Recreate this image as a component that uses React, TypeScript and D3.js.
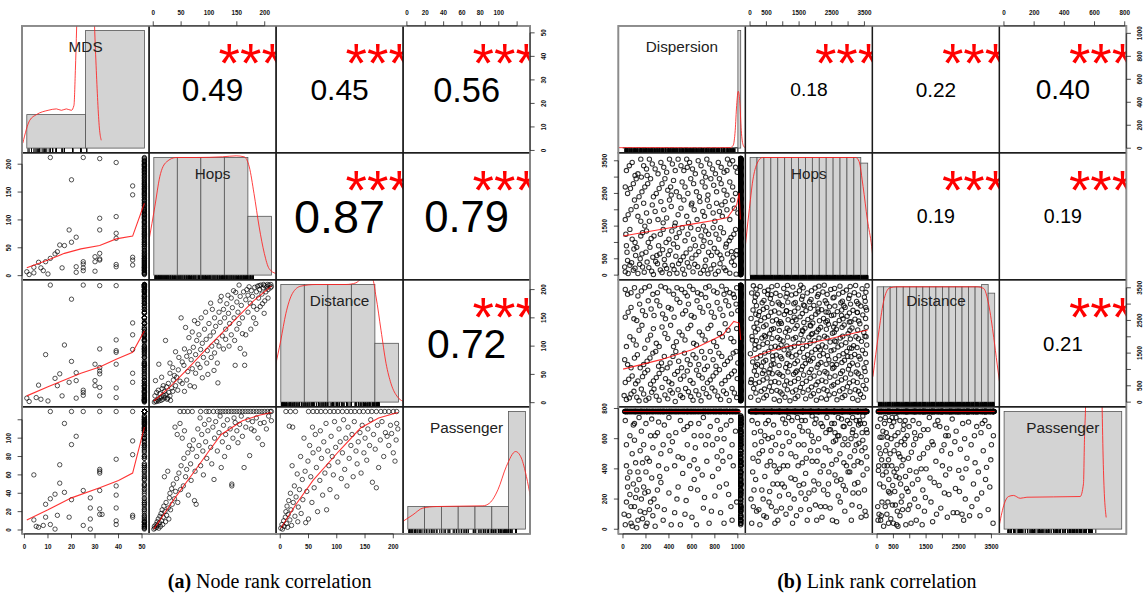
import { useEffect, useRef } from 'react';
import * as d3 from 'd3';

// flat [x0, y0, x1, y1, ...] lists -> [[x0, y0], [x1, y1], ...]
const pairs = (flat: number[]) => d3.range(0, flat.length, 2).map((i) => [flat[i], flat[i + 1]]);

// ---------- (a) node rank correlation ----------
const nodeNames = ['MDS', 'Hops', 'Distance', 'Passenger'];
const nodeRanges = [[1, 51], [1, 212], [1, 209], [1, 129]];
const nodeTicks = [[0, 10, 20, 30, 40, 50], [0, 50, 100, 150, 200], [0, 50, 100, 150, 200], [0, 20, 40, 60, 80, 100, 120]];
const nodeHiddenLabels = [[], [], [], [120]];
const nodeCorrelations = [0.49, 0.45, 0.56, 0.87, 0.79, 0.72];
const nodeSignif = ['***', '***', '***', '***', '***', '***'];

const nodeMdsBreaks = [0, 50, 100];
const nodeMdsCounts = [47, 165];
const nodeHopsBreaks = [0, 50, 100, 150, 200, 250];
const nodeHopsCounts = [50, 50, 50, 50, 25];
const nodeDistanceBreaks = [0, 50, 100, 150, 200, 250];
const nodeDistanceCounts = [50, 50, 50, 50, 25];
const nodePassengerBreaks = [0, 20, 40, 60, 80, 100, 120, 140];
const nodePassengerCounts = [19, 19, 19, 19, 19, 19, 99];

const nodeMdsDensity = [[-3.4, 7], [2.5, 39], [8.2, 47], [18.1, 53], [25.2, 55], [29.4, 53], [33.6, 55], [37.9, 53], [40.1, 60], [41.3, 109], [42.4, 170], [46, 400], [50, 640], [54, 400], [57.6, 172], [59.1, 109], [61.9, 25], [63.3, 11]];
const nodeHopsDensity = [[-9.9, 15.2], [2.1, 29], [12.7, 41.8], [26.8, 48.1], [48, 50], [90, 50], [146, 50.3], [175, 50.7], [192, 50.3], [203, 46], [213, 34.7], [224, 20.5], [235, 9.2], [245, 2.8], [259, 0.7]];
const nodeDistanceDensity = [[-12, 14.9], [0, 26.3], [10.7, 37.6], [24.7, 46.2], [42.6, 49.3], [74.6, 50], [138.5, 50], [159.8, 50.7], [170.5, 52.1], [195.2, 52.1], [202.5, 44.7], [213.1, 30.5], [223.8, 16.4], [234.4, 7.8], [248.5, 2.1], [259.2, 0.4]];
const nodePassengerDensity = [[-6, 6.4], [6, 12], [17.9, 17.7], [33.9, 19], [89.4, 19.6], [97.4, 21.9], [107.3, 33.1], [117.3, 52.7], [128.4, 65.3], [135.2, 59.8], [141.2, 44.3], [146.3, 26.1]];

const nodeMdsHops = [[11, 212], [25, 212], [32, 210], [39, 203], [20, 172], [46, 161], [46, 145], [32, 103], [39, 106], [19, 82], [32, 82], [22, 69], [39, 76], [39, 67], [17, 54], [15, 55], [20, 60], [14, 43], [13, 39], [11, 31], [9, 25], [6, 24], [4, 15], [1, 7], [2, 2], [4, 5], [7, 14], [8, 9], [10, 3], [16, 14], [22, 16], [22, 6], [25, 25], [25, 21], [25, 14], [25, 9], [30, 34], [30, 8], [32, 40], [32, 30], [32, 28], [39, 20], [39, 16], [46, 33], [46, 19], [51, 12], [30, 25], [46, 28]];
const nodeMdsDist = [[11, 208], [25, 208], [32, 207], [39, 207], [20, 183], [46, 141], [46, 120], [17, 102], [32, 95], [39, 111], [39, 92], [39, 89], [9, 85], [20, 73], [30, 68], [32, 62], [32, 56], [32, 51], [39, 68], [46, 94], [46, 52], [46, 36], [13, 43], [15, 51], [14, 30], [19, 36], [22, 53], [22, 39], [30, 39], [30, 30], [32, 27], [39, 26], [39, 9], [6, 31], [1, 8], [2, 2], [5, 9], [7, 6], [10, 3], [16, 12], [22, 8], [25, 22], [25, 18], [25, 13], [32, 12], [51, 5]];
const nodeMdsPass = [[11, 129], [20, 129], [25, 129], [32, 129], [39, 129], [46, 129], [17, 116], [22, 102], [20, 93], [46, 97], [39, 77], [46, 82], [32, 66], [32, 64], [32, 62], [4, 60], [15, 71], [17, 41], [15, 51], [25, 43], [28, 35], [11, 34], [39, 48], [39, 38], [20, 33], [32, 43], [28, 24], [13, 39], [9, 28], [4, 11], [5, 4], [6, 3], [8, 5], [9, 14], [11, 6], [13, 1], [14, 16], [19, 14], [25, 5], [28, 12], [28, 1], [33, 17], [32, 23], [32, 17], [39, 24], [39, 10], [39, 6], [46, 16], [46, 14], [51, 8]];
const nodeHopsDist = [[2, 1], [4, 3], [6, 2], [8, 5], [10, 3], [12, 8], [14, 4], [15, 10], [17, 6], [19, 12], [21, 9], [23, 14], [25, 6], [3, 12], [6, 18], [9, 22], [12, 16], [16, 25], [20, 20], [24, 28], [28, 18], [31, 4], [27, 34], [33, 26], [36, 40], [40, 30], [4, 39], [10, 68], [22, 110], [30, 52], [35, 62], [38, 48], [42, 45], [45, 58], [48, 38], [50, 150], [52, 72], [55, 66], [58, 133], [60, 82], [62, 55], [65, 90], [68, 76], [70, 60], [72, 98], [74, 145], [74, 28], [76, 85], [78, 110], [80, 68], [82, 120], [85, 94], [88, 105], [90, 80], [92, 130], [95, 112], [97, 92], [100, 140], [102, 118], [103, 176], [105, 100], [108, 125], [109, 57], [110, 150], [112, 135], [114, 108], [116, 35], [118, 160], [120, 142], [122, 188], [124, 118], [126, 165], [128, 150], [130, 130], [132, 175], [135, 158], [137, 140], [140, 185], [142, 168], [145, 150], [147, 66], [148, 195], [150, 178], [152, 160], [154, 208], [156, 188], [158, 172], [160, 122], [162, 196], [164, 86], [164, 66], [166, 182], [168, 200], [170, 190], [172, 205], [174, 176], [176, 198], [178, 188], [180, 170], [182, 204], [184, 140], [185, 196], [187, 206], [189, 185], [191, 200], [193, 208], [195, 192], [197, 203], [199, 158], [200, 207], [202, 196], [204, 205], [206, 200], [208, 208], [210, 203], [211, 209], [212, 205], [205, 209], [198, 209], [190, 207], [15, 45], [18, 30], [26, 8], [30, 12], [35, 20], [44, 22], [46, 80], [52, 34], [56, 95], [60, 40], [64, 115], [66, 30], [70, 125], [76, 52], [80, 140], [84, 62], [86, 150], [88, 44], [94, 160], [96, 70], [98, 50], [104, 80], [106, 165], [110, 88], [115, 70], [118, 100], [120, 180], [126, 95], [130, 112], [134, 190], [136, 100], [140, 120], [144, 198], [146, 110], [150, 130], [154, 140], [156, 96], [160, 150], [166, 120], [170, 160], [175, 130], [180, 150], [186, 165], [192, 170], [196, 175], [200, 180], [206, 185], [30, 70], [40, 90], [56, 20]];
const nodeHopsPass = [[1, 1], [2, 4], [3, 2], [5, 6], [6, 3], [7, 9], [8, 5], [9, 12], [10, 2], [11, 8], [12, 15], [13, 4], [14, 18], [15, 10], [16, 22], [17, 6], [18, 14], [19, 26], [20, 58], [21, 20], [22, 9], [23, 30], [24, 16], [26, 64], [27, 24], [28, 12], [29, 35], [30, 40], [31, 22], [33, 45], [34, 28], [36, 50], [38, 34], [39, 112], [40, 42], [42, 56], [43, 104], [44, 30], [46, 62], [48, 116], [49, 44], [50, 70], [52, 100], [54, 48], [55, 78], [56, 108], [58, 58], [60, 66], [62, 84], [63, 38], [65, 92], [67, 72], [68, 54], [70, 88], [72, 98], [74, 32], [75, 64], [77, 28], [78, 80], [80, 110], [82, 92], [84, 122], [85, 70], [87, 104], [89, 86], [90, 60], [92, 115], [94, 96], [96, 78], [98, 108], [100, 120], [103, 90], [105, 72], [107, 112], [109, 55], [110, 100], [112, 118], [115, 86], [118, 106], [120, 124], [122, 68], [124, 96], [126, 114], [128, 80], [130, 104], [133, 120], [135, 90], [138, 110], [141, 50], [141, 48], [143, 100], [145, 122], [147, 117], [150, 108], [152, 95], [155, 115], [158, 124], [160, 102], [163, 68], [166, 112], [170, 120], [173, 81], [176, 110], [178, 118], [181, 108], [185, 122], [188, 100], [192, 116], [196, 93], [199, 117], [203, 110], [207, 124], [212, 119], [48, 129], [55, 129], [62, 129], [70, 129], [85, 129], [95, 129], [100, 129], [108, 129], [115, 129], [120, 129], [125, 129], [130, 129], [135, 129], [140, 129], [145, 129], [150, 129], [155, 129], [160, 129], [165, 129], [170, 129], [175, 129], [180, 129], [185, 129], [190, 129], [195, 129], [200, 129], [205, 129], [210, 129], [212, 129]];
const nodeDistPass = [[1, 2], [3, 6], [4, 1], [6, 10], [7, 4], [9, 14], [10, 20], [11, 7], [12, 26], [13, 3], [14, 17], [15, 32], [16, 113], [17, 11], [18, 40], [19, 22], [20, 5], [21, 70], [22, 112], [23, 30], [25, 48], [26, 15], [28, 36], [30, 61], [31, 9], [32, 25], [34, 44], [36, 80], [37, 18], [39, 55], [40, 33], [42, 100], [44, 64], [45, 8], [47, 42], [49, 75], [50, 12], [52, 92], [54, 58], [56, 30], [57, 112], [58, 84], [60, 46], [62, 104], [64, 68], [66, 20], [68, 88], [70, 54], [71, 108], [73, 78], [75, 38], [77, 96], [79, 62], [81, 116], [82, 22], [84, 86], [86, 70], [88, 44], [90, 102], [92, 80], [94, 60], [96, 118], [98, 90], [100, 36], [102, 74], [104, 110], [106, 96], [108, 56], [110, 84], [112, 120], [114, 66], [116, 100], [118, 48], [120, 112], [122, 78], [125, 92], [127, 104], [129, 58], [131, 118], [134, 86], [136, 72], [138, 96], [141, 106], [143, 62], [145, 114], [148, 84], [150, 100], [153, 76], [155, 110], [158, 92], [160, 120], [163, 52], [165, 104], [168, 88], [170, 46], [172, 114], [174, 68], [177, 98], [180, 118], [183, 80], [186, 106], [189, 102], [192, 92], [195, 114], [197, 105], [200, 84], [203, 75], [205, 98], [206, 116], [208, 110], [10, 129], [18, 129], [27, 129], [50, 129], [58, 129], [65, 129], [72, 129], [80, 129], [88, 129], [95, 129], [102, 129], [110, 129], [118, 129], [125, 129], [132, 129], [140, 129], [147, 129], [155, 129], [162, 129], [170, 129], [178, 129], [185, 129], [192, 129], [200, 129], [206, 129]];

const nodeLoessMdsHops = [[1, 14], [10, 28], [17, 40], [24, 48], [32, 54], [39, 66], [46, 71], [51, 130]];
const nodeLoessMdsDist = [[1, 12], [10, 28], [17, 40], [24, 52], [32, 63], [39, 77], [46, 89], [51, 127]];
const nodeLoessMdsPass = [[1, 11], [10, 22], [20, 35], [32, 46], [40, 54], [46, 62], [51, 112]];
const nodeLoessHopsDist = [[1, 3], [30, 28], [60, 58], [100, 100], [140, 140], [180, 180], [212, 206]];
const nodeLoessHopsPass = [[1, 1], [20, 18], [39, 35], [74, 64], [100, 86], [122, 104], [160, 119], [190, 125], [212, 128]];
const nodeLoessDistPass = [[1, 2], [28, 28], [58, 54], [104, 86], [142, 111], [174, 122], [208, 128]];

// ---------- (b) link rank correlation ----------
const linkNames = ['Dispersion', 'Hops', 'Distance', 'Passenger'];
const linkRanges = [[1, 1025], [1, 3600], [1, 3600], [1, 780]];
const linkTicks = [[0, 200, 400, 600, 800, 1000], [0, 500, 1000, 1500, 2000, 2500, 3000, 3500], [0, 500, 1000, 1500, 2000, 2500, 3000, 3500], [0, 200, 400, 600, 800]];
const linkHiddenLabels = [[], [1000, 2000, 3000], [1000, 2000, 3000], []];
const linkCorrelations = [0.18, 0.22, 0.40, 0.19, 0.19, 0.21];
const linkSignif = ['***', '***', '***', '***', '***', '***'];

const linkDispersionBreaks = [0, 25, 50, 75, 100, 125, 150, 175, 200, 225, 250, 275, 300, 325, 350, 375, 400, 425, 450, 475, 500, 525, 550, 575, 600, 625, 650, 675, 700, 725, 750, 775, 800, 825, 850, 875, 900, 925, 950, 975, 1000, 1025, 1050];
const linkDispersionCounts = [2, 1, 2, 1, 1, 2, 1, 2, 1, 1, 2, 1, 2, 1, 1, 2, 1, 2, 1, 1, 2, 1, 2, 1, 1, 2, 1, 2, 1, 1, 2, 1, 2, 1, 1, 2, 1, 2, 1, 2, 3, 520];
const linkHopsBreaks = [0, 210, 420, 630, 840, 1050, 1260, 1470, 1680, 1890, 2100, 2310, 2520, 2730, 2940, 3150, 3360, 3570];
const linkHopsCounts = [210, 210, 210, 210, 210, 210, 210, 210, 210, 210, 210, 210, 210, 210, 210, 210, 200];
const linkDistanceBreaks = [0, 200, 400, 600, 800, 1000, 1200, 1400, 1600, 1800, 2000, 2200, 2400, 2600, 2800, 3000, 3200, 3400, 3600];
const linkDistanceCounts = [200, 200, 200, 200, 200, 200, 200, 200, 200, 200, 200, 200, 200, 200, 200, 200, 204, 189];
const linkPassengerBreaks = [0, 1000];
const linkPassengerCounts = [1000];

const linkDispersionDensity = [[-37, 2], [330, 2], [688, 1], [956, 2], [983, 12], [1001, 78], [1014, 189], [1028, 251], [1041, 211], [1055, 78], [1073, 12], [1091, 1]];
const linkHopsDensity = [[-158, 45], [-36, 111], [85, 170], [216, 200], [368, 210], [3205, 210], [3308, 203], [3430, 158], [3560, 99], [3691, 51], [3725, 33]];
const linkDistanceDensity = [[-129, 44], [43, 118], [196, 174], [380, 198], [607, 200], [3061, 200], [3264, 197], [3417, 169], [3571, 112], [3675, 66], [3755, 32]];
const linkPassengerDensity = [[-39, 43], [1, 214], [37, 277], [80, 286], [137, 262], [194, 271], [647, 277], [675, 386], [684, 786], [692, 1015], [740, 5000], [790, 5000], [834, 1015], [845, 500], [868, 99]];

const linkDispHops = pairs([
  20, 100, 60, 300, 90, 150, 130, 50, 170, 250, 210, 400, 250, 120, 300, 350, 340, 80, 380, 200, 430, 300, 470, 60, 520, 180, 560, 380, 610, 100, 650, 260, 700, 150, 740, 40, 790, 320, 830, 120, 880, 220, 930, 60, 970, 300,
  40, 450, 110, 600, 150, 500, 200, 700, 260, 550, 320, 650, 360, 480, 410, 750, 460, 580, 500, 450, 550, 680, 600, 520, 660, 720, 720, 460, 770, 600, 820, 700, 860, 500, 910, 650, 960, 550, 990, 750,
  30, 900, 80, 1100, 120, 850, 170, 1300, 220, 1000, 270, 1200, 310, 900, 350, 1400, 400, 1100, 440, 950, 490, 1300, 540, 1050, 590, 1450, 630, 900, 680, 1200, 720, 1350, 760, 1000, 810, 1250, 850, 1450, 900, 950, 940, 1150, 980, 1400, 60, 1400, 190, 1500, 450, 1500, 700, 1500,
  20, 1700, 70, 2000, 130, 1800, 180, 2200, 230, 1650, 280, 1950, 330, 2250, 380, 1750, 420, 2100, 480, 1850, 530, 2300, 570, 1600, 620, 2000, 670, 2250, 710, 1800, 750, 2100, 800, 1650, 840, 1950, 890, 2250, 930, 1700, 970, 2050, 1000, 1900, 100, 2300, 350, 1600, 600, 2200, 860, 2150,
  40, 2500, 90, 2800, 140, 2400, 190, 2700, 240, 2950, 290, 2500, 340, 2800, 390, 2600, 440, 2900, 490, 2400, 540, 2700, 590, 2950, 640, 2550, 690, 2850, 740, 2450, 790, 2750, 840, 2950, 880, 2600, 930, 2850, 980, 2500, 160, 3000, 420, 2450, 720, 3000,
  30, 3200, 80, 3450, 130, 3100, 180, 3350, 230, 3550, 280, 3250, 330, 3450, 380, 3150, 430, 3400, 480, 3550, 530, 3200, 580, 3450, 630, 3100, 680, 3350, 730, 3550, 780, 3250, 830, 3450, 880, 3150, 930, 3400, 980, 3300, 210, 3050, 560, 3300, 910, 3550,
  15, 250, 45, 50, 75, 380, 105, 210, 145, 330, 185, 90, 225, 230, 265, 20, 285, 420, 325, 160, 365, 300, 405, 40, 445, 170, 485, 350, 535, 30, 575, 250, 625, 330, 675, 60, 715, 270, 765, 190, 805, 30, 845, 350, 895, 140, 945, 400, 985, 30,
  35, 700, 95, 800, 165, 650, 235, 850, 295, 600, 345, 780, 395, 620, 475, 850, 525, 560, 585, 800, 635, 620, 695, 880, 745, 700, 795, 820, 845, 620, 895, 860, 945, 720, 985, 620,
  25, 1250, 105, 1000, 155, 1200, 205, 1350, 245, 1120, 325, 1250, 375, 1000, 425, 1350, 465, 1150, 515, 1450, 565, 1250, 615, 1100, 655, 1400, 705, 1050, 745, 1250, 785, 1450, 835, 1100, 875, 1300, 925, 1050, 965, 1250,
  45, 1850, 115, 2100, 155, 1650, 205, 1900, 255, 2150, 305, 1700, 355, 2000, 405, 2300, 455, 1600, 505, 2050, 555, 1800, 595, 2150, 645, 1700, 695, 1950, 735, 2300, 785, 1900, 815, 2200, 865, 1800, 905, 2000, 955, 2300,
  20, 2700, 65, 2650, 115, 2950, 165, 2550, 215, 2800, 265, 2400, 315, 2650, 365, 2950, 415, 2700, 465, 2550, 515, 2850, 565, 2500, 615, 2800, 665, 2400, 715, 2700, 765, 2950, 815, 2550, 855, 2800, 905, 2450, 955, 2700,
  55, 3350, 105, 3050, 155, 3550, 205, 3250, 255, 3400, 305, 3100, 355, 3300, 405, 3550, 455, 3200, 505, 3350, 555, 3550, 605, 3250, 655, 3500, 705, 3150, 755, 3400, 805, 3100, 855, 3300, 905, 3200, 955, 3500, 995, 3150,
]);
const linkDispDist = pairs([
  30, 80, 70, 250, 120, 150, 160, 400, 200, 60, 250, 300, 290, 180, 340, 450, 390, 100, 430, 280, 480, 380, 520, 140, 570, 320, 610, 60, 660, 220, 700, 420, 750, 160, 800, 340, 850, 80, 900, 260, 950, 420, 990, 140,
  20, 600, 80, 800, 130, 650, 190, 900, 240, 550, 290, 750, 340, 1000, 400, 620, 450, 850, 500, 700, 560, 950, 610, 580, 660, 820, 710, 1000, 760, 680, 810, 900, 860, 560, 920, 780, 970, 950,
  40, 1150, 100, 1350, 150, 1050, 210, 1250, 260, 1500, 310, 1100, 360, 1400, 410, 1200, 460, 1550, 510, 1050, 560, 1300, 610, 1450, 660, 1150, 710, 1350, 760, 1550, 810, 1100, 860, 1400, 910, 1250, 960, 1500, 1000, 1200,
  30, 1700, 90, 1900, 140, 2200, 190, 1650, 240, 2050, 290, 1800, 340, 2300, 390, 1950, 440, 1700, 490, 2150, 540, 1900, 590, 2350, 640, 1750, 690, 2050, 740, 2250, 790, 1850, 840, 2100, 890, 2400, 940, 1950, 990, 2250,
  20, 2600, 70, 2900, 120, 2500, 170, 2800, 220, 3100, 270, 2650, 320, 2950, 370, 2550, 420, 2850, 470, 3150, 520, 2700, 570, 3000, 620, 2600, 670, 2900, 720, 3200, 770, 2750, 820, 3050, 870, 2650, 920, 2950, 970, 3200, 1000, 2800,
  40, 3300, 100, 3500, 160, 3400, 230, 3550, 300, 3350, 370, 3500, 440, 3300, 510, 3450, 580, 3550, 650, 3350, 720, 3500, 790, 3400, 860, 3550, 930, 3350, 990, 3500, 130, 3250, 560, 3250, 880, 3300,
  10, 200, 55, 130, 95, 330, 140, 40, 180, 250, 225, 120, 270, 400, 315, 60, 365, 220, 410, 360, 455, 20, 500, 200, 545, 420, 590, 170, 635, 350, 680, 40, 725, 260, 775, 430, 825, 190, 875, 340, 925, 50, 970, 280,
  50, 700, 110, 560, 170, 780, 215, 980, 265, 650, 315, 880, 370, 720, 425, 560, 475, 940, 530, 800, 585, 660, 640, 980, 690, 740, 735, 590, 785, 800, 840, 990, 890, 660, 945, 860, 995, 720,
  15, 1300, 70, 1050, 125, 1450, 180, 1150, 235, 1350, 285, 1550, 335, 1200, 385, 1050, 435, 1400, 485, 1250, 535, 1500, 585, 1150, 635, 1350, 685, 1550, 735, 1100, 785, 1300, 835, 1500, 885, 1150, 935, 1350, 985, 1550,
  60, 2000, 115, 1750, 165, 2350, 215, 1900, 265, 2250, 315, 1700, 365, 2100, 415, 2350, 465, 1850, 515, 2050, 565, 2250, 615, 1800, 665, 2150, 715, 1900, 765, 2350, 815, 1700, 865, 2000, 915, 2200, 965, 1850,
  45, 2750, 95, 2550, 145, 3000, 195, 2650, 245, 2850, 295, 3100, 345, 2700, 395, 2900, 445, 2600, 495, 3050, 545, 2800, 595, 2650, 645, 3100, 695, 2750, 745, 2950, 795, 2600, 845, 2850, 895, 3100, 945, 2700, 985, 3000,
  20, 3450, 70, 3350, 190, 3500, 260, 3300, 330, 3550, 400, 3400, 470, 3500, 540, 3350, 610, 3450, 680, 3300, 750, 3550, 820, 3350, 900, 3450, 960, 3300,
]);
const linkHopsDist = pairs([
  20, 150, 110, 420, 40, 690, 130, 950, 80, 1230, 10, 1480, 150, 1760, 60, 2010, 120, 2290, 30, 2560, 90, 2820, 140, 3080, 50, 3340, 100, 3560, 70, 1900, 20, 600,
  250, 60, 340, 330, 280, 610, 380, 880, 230, 1150, 320, 1420, 270, 1690, 360, 1960, 240, 2230, 330, 2500, 290, 2770, 370, 3040, 220, 3300, 310, 3540, 350, 1100, 260, 2650,
  500, 200, 590, 470, 520, 740, 610, 1010, 480, 1280, 570, 1550, 530, 1820, 600, 2090, 490, 2360, 560, 2630, 510, 2900, 620, 3170, 550, 3430, 580, 900, 470, 2000, 540, 3300,
  740, 90, 820, 360, 760, 630, 850, 900, 730, 1170, 800, 1440, 770, 1710, 840, 1980, 720, 2250, 810, 2520, 750, 2790, 860, 3060, 790, 3330, 830, 3570, 700, 1300, 880, 2400,
  980, 250, 1060, 520, 1000, 790, 1090, 1060, 970, 1330, 1040, 1600, 1010, 1870, 1080, 2140, 960, 2410, 1050, 2680, 990, 2950, 1100, 3220, 1030, 3480, 1070, 150, 950, 1750, 1110, 2800,
  1220, 40, 1300, 310, 1240, 580, 1330, 850, 1210, 1120, 1280, 1390, 1250, 1660, 1320, 1930, 1200, 2200, 1290, 2470, 1230, 2740, 1340, 3010, 1270, 3280, 1310, 3520, 1190, 1500, 1350, 2600,
  1460, 180, 1540, 450, 1480, 720, 1570, 990, 1450, 1260, 1520, 1530, 1490, 1800, 1560, 2070, 1440, 2340, 1530, 2610, 1470, 2880, 1580, 3150, 1510, 3410, 1550, 3580, 1430, 950, 1600, 2200,
  1700, 100, 1780, 370, 1720, 640, 1810, 910, 1690, 1180, 1760, 1450, 1730, 1720, 1800, 1990, 1680, 2260, 1770, 2530, 1710, 2800, 1820, 3070, 1750, 3340, 1790, 1300, 1670, 2950, 1840, 2350,
  1940, 260, 2020, 530, 1960, 800, 2050, 1070, 1930, 1340, 2000, 1610, 1970, 1880, 2040, 2150, 1920, 2420, 2010, 2690, 1950, 2960, 2060, 3230, 1990, 3490, 2030, 60, 1910, 2100, 2080, 2850,
  2180, 130, 2260, 400, 2200, 670, 2290, 940, 2170, 1210, 2240, 1480, 2210, 1750, 2280, 2020, 2160, 2290, 2250, 2560, 2190, 2830, 2300, 3100, 2230, 3370, 2270, 3580, 2150, 1600, 2320, 2450,
  2420, 220, 2500, 490, 2440, 760, 2530, 1030, 2410, 1300, 2480, 1570, 2450, 1840, 2520, 2110, 2400, 2380, 2490, 2650, 2430, 2920, 2540, 3190, 2470, 3450, 2510, 1150, 2390, 2750, 2560, 2300,
  2660, 70, 2740, 340, 2680, 610, 2770, 880, 2650, 1150, 2720, 1420, 2690, 1690, 2760, 1960, 2640, 2230, 2730, 2500, 2670, 2770, 2780, 3040, 2710, 3310, 2750, 3550, 2630, 1850, 2800, 2650,
  2900, 200, 2980, 470, 2920, 740, 3010, 1010, 2890, 1280, 2960, 1550, 2930, 1820, 3000, 2090, 2880, 2360, 2970, 2630, 2910, 2900, 3020, 3170, 2950, 3430, 2990, 1400, 2870, 2950, 3040, 2450,
  3140, 110, 3220, 380, 3160, 650, 3250, 920, 3130, 1190, 3200, 1460, 3170, 1730, 3240, 2000, 3120, 2270, 3210, 2540, 3150, 2810, 3260, 3080, 3190, 3350, 3230, 3570, 3110, 1650, 3280, 2750,
  3380, 240, 3460, 510, 3400, 780, 3490, 1050, 3370, 1320, 3440, 1590, 3410, 1860, 3480, 2130, 3360, 2400, 3450, 2670, 3390, 2940, 3500, 3210, 3430, 3470, 3470, 150, 3550, 2000, 3540, 2900,
  180, 280, 160, 560, 200, 820, 170, 1090, 210, 1350, 150, 1620, 190, 1880, 165, 2150, 205, 2420, 175, 2690, 195, 2950, 160, 3220, 185, 3460,
  420, 130, 440, 400, 400, 680, 430, 960, 410, 1230, 450, 1500, 395, 1770, 435, 2040, 415, 2310, 445, 2580, 405, 2840, 425, 3110, 440, 3390,
  660, 330, 640, 610, 680, 870, 650, 1140, 690, 1410, 645, 1680, 670, 1950, 655, 2220, 685, 2480, 640, 2750, 675, 3020, 650, 3290, 665, 3530,
  900, 40, 920, 310, 880, 590, 910, 850, 890, 1120, 930, 1390, 875, 1660, 915, 1920, 895, 2190, 925, 2460, 885, 2730, 905, 3000, 920, 3260,
  1140, 380, 1120, 650, 1160, 920, 1130, 1180, 1170, 1450, 1125, 1720, 1150, 1990, 1135, 2260, 1165, 2520, 1120, 2790, 1155, 3060, 1130, 3330, 1145, 3570,
  1380, 110, 1400, 370, 1360, 640, 1390, 910, 1370, 1180, 1410, 1440, 1355, 1710, 1395, 1980, 1375, 2250, 1405, 2520, 1365, 2780, 1385, 3050, 1400, 3320,
  1620, 300, 1600, 570, 1640, 830, 1610, 1100, 1650, 1370, 1605, 1640, 1630, 1900, 1615, 2170, 1645, 2440, 1600, 2710, 1635, 2970, 1610, 3240, 1625, 3500,
  1860, 190, 1880, 460, 1840, 730, 1870, 1000, 1850, 1260, 1890, 1530, 1835, 1800, 1875, 2070, 1855, 2330, 1885, 2600, 1845, 2870, 1865, 3140, 1880, 3410,
  2100, 350, 2080, 620, 2120, 890, 2090, 1150, 2130, 1420, 2085, 1690, 2110, 1960, 2095, 2220, 2125, 2490, 2080, 2760, 2115, 3030, 2090, 3300, 2105, 3550,
  2340, 90, 2360, 350, 2320, 620, 2350, 890, 2330, 1160, 2370, 1420, 2315, 1690, 2355, 1960, 2335, 2230, 2365, 2490, 2325, 2760, 2345, 3030, 2360, 3300,
  2580, 260, 2560, 530, 2600, 800, 2570, 1070, 2610, 1330, 2565, 1600, 2590, 1870, 2575, 2140, 2605, 2400, 2560, 2670, 2595, 2940, 2570, 3210, 2585, 3480,
  2820, 140, 2840, 410, 2800, 680, 2830, 950, 2810, 1210, 2850, 1480, 2795, 1750, 2835, 2020, 2815, 2290, 2845, 2550, 2805, 2820, 2825, 3090, 2840, 3360,
  3060, 320, 3040, 590, 3080, 860, 3050, 1120, 3090, 1390, 3045, 1660, 3070, 1930, 3055, 2200, 3085, 2460, 3040, 2730, 3075, 3000, 3050, 3270, 3065, 3540,
  3300, 60, 3320, 330, 3280, 600, 3310, 870, 3290, 1140, 3330, 1400, 3275, 1670, 3315, 1940, 3295, 2210, 3325, 2480, 3285, 2740, 3305, 3010, 3320, 3280,
  3540, 400, 3560, 670, 3520, 940, 3550, 1210, 3530, 1480, 3570, 1750, 3515, 2020, 3555, 2290, 3535, 2560, 3565, 2820, 3525, 3090, 3545, 3360, 3580, 3560,
]);
const linkDispPass = pairs([
  20, 30, 50, 90, 80, 20, 100, 150, 130, 60, 160, 200, 190, 110, 210, 40, 240, 180, 60, 230, 120, 260, 180, 280, 30, 180, 260, 90, 280, 20, 150, 120, 90, 300, 220, 250, 40, 340,
  300, 150, 350, 60, 400, 240, 450, 110, 500, 30, 550, 190, 600, 80, 650, 260, 700, 140, 750, 40, 800, 220, 850, 110, 900, 300, 950, 60, 990, 180, 330, 310, 480, 280, 620, 330, 780, 350, 920, 230,
  30, 420, 80, 500, 130, 380, 180, 560, 230, 450, 280, 620, 330, 500, 380, 400, 430, 580, 480, 480, 530, 660, 580, 420, 630, 540, 680, 620, 730, 450, 780, 560, 830, 400, 880, 600, 930, 480, 980, 650,
  60, 620, 160, 650, 260, 540, 360, 690, 460, 640, 560, 560, 660, 700, 760, 680, 860, 520, 960, 420, 20, 720, 90, 690, 140, 740, 200, 700, 250, 730, 310, 710, 400, 740, 500, 720, 590, 700, 700, 740, 820, 720, 900, 690,
  310, 420, 110, 440, 200, 380, 410, 520, 690, 360, 870, 450, 520, 370,
  10, 100, 70, 40, 110, 210, 170, 70, 230, 130, 40, 280, 140, 330, 200, 20, 270, 200, 70, 150, 250, 340, 120, 10, 190, 240, 300, 260, 360, 130, 420, 30, 470, 200, 540, 100, 590, 270, 640, 30, 710, 210, 770, 120, 840, 280, 880, 40, 940, 150,
  60, 380, 150, 520, 240, 620, 350, 560, 450, 420, 560, 680, 650, 400, 740, 620, 850, 660, 950, 560, 100, 590, 210, 470, 320, 350, 520, 470, 620, 620, 720, 560, 820, 600, 100, 700, 300, 640, 400, 620, 620, 460, 820, 480, 940, 720, 30, 560, 170, 440,
]);
const linkHopsPass = pairs([
  50, 40, 200, 120, 120, 260, 300, 30, 80, 380, 250, 450, 150, 560, 320, 650, 60, 720, 400, 200, 450, 350, 380, 520, 500, 80, 550, 600, 480, 700,
  650, 150, 700, 300, 620, 450, 780, 560, 720, 690, 850, 60, 900, 220, 820, 380, 950, 500, 880, 640, 1000, 730,
  1100, 100, 1050, 280, 1150, 420, 1200, 580, 1080, 700, 1300, 40, 1350, 200, 1250, 340, 1400, 480, 1330, 620, 1450, 740,
  1550, 130, 1500, 290, 1600, 440, 1650, 560, 1520, 680, 1750, 60, 1800, 240, 1700, 370, 1850, 520, 1780, 650, 1900, 750,
  2000, 160, 1950, 320, 2050, 450, 2100, 600, 1980, 700, 2200, 80, 2250, 260, 2150, 380, 2300, 540, 2220, 680, 2350, 740,
  2450, 140, 2400, 300, 2500, 430, 2550, 580, 2420, 660, 2650, 50, 2700, 220, 2600, 360, 2750, 500, 2680, 620, 2800, 730,
  2900, 120, 2850, 290, 2950, 420, 3000, 560, 2880, 680, 3100, 60, 3150, 240, 3050, 380, 3200, 520, 3130, 640, 3250, 720,
  3350, 150, 3300, 310, 3400, 440, 3450, 590, 3320, 690, 3550, 90, 3500, 260, 3580, 400, 3520, 540, 3560, 660, 3450, 750,
  100, 150, 350, 580, 600, 250, 900, 400, 1250, 500, 1700, 200, 2100, 300, 2500, 700, 2900, 600, 3300, 450, 800, 120, 1600, 650, 2300, 150, 3050, 700, 3400, 80, 450, 620, 1900, 450, 2650, 320, 3200, 300, 1000, 550,
  30, 200, 170, 330, 280, 500, 420, 90, 230, 700, 520, 420, 580, 180, 680, 610, 760, 40, 840, 300, 960, 140, 1020, 420, 1120, 640, 1180, 230, 1280, 720, 1380, 330, 1420, 90, 1480, 560, 1580, 720, 1640, 300, 1720, 470, 1820, 130, 1880, 620, 1960, 260,
  2020, 730, 2080, 520, 2160, 150, 2240, 420, 2320, 640, 2380, 230, 2440, 520, 2520, 60, 2580, 700, 2640, 460, 2720, 620, 2780, 330, 2840, 560, 2920, 260, 2980, 720, 3060, 480, 3120, 160, 3180, 420, 3240, 620, 3320, 240, 3380, 700, 3460, 360, 3520, 120, 3580, 640,
  130, 640, 360, 260, 560, 720, 740, 420, 980, 300, 1230, 140, 1470, 420, 1690, 720, 1930, 580, 2170, 700, 2410, 380, 2620, 590, 2870, 440, 3090, 600, 3330, 570, 3570, 480,
  90, 470, 270, 130, 640, 520, 1180, 740, 1560, 240, 2040, 60, 2460, 660, 2760, 180, 3140, 740, 3430, 640, 3000, 380, 2700, 740, 3350, 720, 3500, 700, 2850, 680, 3250, 560, 2600, 640, 3150, 660, 3420, 520,
]);
const linkDistPass = pairs([
  30, 60, 150, 180, 80, 300, 220, 420, 60, 540, 180, 650, 100, 730, 300, 100, 350, 250, 280, 380, 400, 500, 320, 610, 380, 720,
  500, 40, 560, 160, 480, 290, 600, 400, 520, 520, 640, 640, 580, 740, 700, 90, 760, 220, 680, 340, 800, 460, 740, 580, 820, 690,
  950, 130, 900, 270, 1000, 390, 1050, 510, 920, 620, 1100, 720, 1200, 60, 1150, 200, 1250, 330, 1300, 470, 1180, 600, 1280, 700,
  1450, 120, 1400, 260, 1500, 400, 1550, 540, 1420, 660, 1600, 740, 1700, 50, 1650, 180, 1750, 310, 1800, 450, 1680, 580, 1780, 690,
  1950, 140, 1900, 290, 2000, 420, 2050, 560, 1920, 680, 2150, 80, 2200, 230, 2100, 360, 2250, 500, 2180, 620, 2300, 730,
  2450, 110, 2400, 270, 2500, 390, 2550, 530, 2420, 650, 2650, 60, 2700, 200, 2600, 340, 2750, 470, 2680, 600, 2800, 710,
  2900, 150, 2950, 300, 3000, 440, 2880, 560, 3050, 680, 3150, 90, 3200, 240, 3100, 380, 3250, 520, 3180, 640, 3300, 720,
  3400, 130, 3450, 280, 3350, 410, 3500, 560, 3420, 680, 3550, 40,
  50, 420, 250, 150, 450, 680, 700, 480, 130, 90, 600, 30, 850, 600, 1000, 160, 1350, 400, 2100, 620, 2600, 100,
  20, 150, 110, 60, 200, 280, 40, 390, 140, 460, 260, 520, 90, 610, 230, 700, 20, 680, 330, 180, 420, 70, 360, 330, 450, 420, 300, 560, 430, 600, 350, 460, 460, 740, 540, 250, 620, 120, 580, 350, 660, 500, 550, 620, 700, 720, 720, 300, 780, 130, 760, 420,
  840, 560, 800, 660, 880, 30, 870, 350, 960, 470, 980, 680, 1040, 40, 1080, 300, 1120, 560, 1200, 380, 1260, 150, 1330, 620, 1380, 30, 1420, 500, 1480, 210, 1560, 660, 1620, 340, 1720, 560, 1820, 100, 1860, 720, 1980, 520, 2060, 240, 2130, 670, 2220, 400,
  2330, 110, 2380, 580, 2520, 250, 2620, 700, 2720, 400, 2830, 90, 2980, 620, 3060, 200, 3220, 700, 3320, 330, 3480, 460, 3560, 620,
  60, 100, 170, 360, 280, 640, 390, 240, 510, 710, 610, 560, 740, 180, 100, 500, 200, 20, 310, 420, 520, 380, 640, 20, 150, 610, 350, 40, 250, 740, 470, 160, 860, 720, 950, 250, 1150, 640,
]);

const linkLoessDispHops = [[1, 1200], [200, 1320], [400, 1440], [600, 1560], [800, 1680], [910, 1760], [990, 2150], [1012, 2510], [1022, 1700]];
const linkLoessDispDist = [[1, 1010], [330, 1300], [600, 1600], [870, 2060], [965, 2470], [1012, 2420], [1025, 1900]];
const linkLoessHopsDist = [[1, 1340], [600, 1560], [1200, 1720], [1800, 1800], [2400, 1930], [3000, 2070], [3600, 2210]];
const linkLoessDispPass = [[1, 780], [1025, 780]];
const linkLoessHopsPass = [[1, 780], [3600, 780]];
const linkLoessDistPass = [[1, 780], [3600, 780]];

// ---------- layout ----------
const S = 127;
const TOP = 25.8;
const PAD = 0.04;
const SANS = '"Liberation Sans", Arial, sans-serif';

const mdsMax = nodeRanges[0][1];
const dispMax = linkRanges[0][1];
const passMax = linkRanges[3][1];
const px = (d: number[]) => d[0];
const py = (d: number[]) => d[1];

const nodeMatrix = {
  id: 'node', x0: 22.1, names: nodeNames, ranges: nodeRanges, ticks: nodeTicks, hidden: nodeHiddenLabels,
  cors: nodeCorrelations, signif: nodeSignif, caption: ['(a)', ' Node rank correlation'], captionX: 269.7,
  pointStroke: 0.85,
  hists: [
    { breaks: nodeMdsBreaks, counts: nodeMdsCounts, density: nodeMdsDensity, rug: [...nodeMdsHops.map(px), mdsMax] },
    { breaks: nodeHopsBreaks, counts: nodeHopsCounts, density: nodeHopsDensity, rug: nodeHopsDist.map(px) },
    { breaks: nodeDistanceBreaks, counts: nodeDistanceCounts, density: nodeDistanceDensity, rug: nodeHopsDist.map(py) },
    { breaks: nodePassengerBreaks, counts: nodePassengerCounts, density: nodePassengerDensity, rug: nodeHopsPass.map(py) },
  ],
  lower: [
    { row: 1, col: 0, points: [...nodeMdsHops, ...nodeHopsDist.map((d) => [mdsMax, d[0]])], smooth: nodeLoessMdsHops },
    { row: 2, col: 0, points: [...nodeMdsDist, ...nodeHopsDist.map((d) => [mdsMax, d[1]])], smooth: nodeLoessMdsDist },
    { row: 3, col: 0, points: [...nodeMdsPass, ...nodeHopsPass.map((d) => [mdsMax, d[1]])], smooth: nodeLoessMdsPass },
    { row: 2, col: 1, points: nodeHopsDist, smooth: nodeLoessHopsDist },
    { row: 3, col: 1, points: nodeHopsPass, smooth: nodeLoessHopsPass },
    { row: 3, col: 2, points: nodeDistPass, smooth: nodeLoessDistPass },
  ],
};

const linkMatrix = {
  id: 'link', x0: 618.4, names: linkNames, ranges: linkRanges, ticks: linkTicks, hidden: linkHiddenLabels,
  cors: linkCorrelations, signif: linkSignif, caption: ['(b)', ' Link rank correlation'], captionX: 876.9,
  pointStroke: 1.05,
  hists: [
    { breaks: linkDispersionBreaks, counts: linkDispersionCounts, density: linkDispersionDensity, rug: [...linkDispHops.map(px), dispMax] },
    { breaks: linkHopsBreaks, counts: linkHopsCounts, density: linkHopsDensity, rug: linkHopsDist.map(px) },
    { breaks: linkDistanceBreaks, counts: linkDistanceCounts, density: linkDistanceDensity, rug: linkHopsDist.map(py) },
    { breaks: linkPassengerBreaks, counts: linkPassengerCounts, density: linkPassengerDensity, rug: [...linkHopsPass.map(py), passMax] },
  ],
  lower: [
    { row: 1, col: 0, points: [...linkDispHops, ...linkHopsDist.map((d) => [dispMax, d[0]])], smooth: linkLoessDispHops },
    { row: 2, col: 0, points: [...linkDispDist, ...linkHopsDist.map((d) => [dispMax, d[1]])], smooth: linkLoessDispDist },
    { row: 3, col: 0, points: [...linkDispPass, ...linkHopsPass.map((d) => [dispMax, d[1]]), ...linkDispHops.map((d) => [d[0], passMax])], smooth: linkLoessDispPass },
    { row: 2, col: 1, points: linkHopsDist, smooth: linkLoessHopsDist },
    { row: 3, col: 1, points: [...linkHopsPass, ...linkHopsDist.map((d) => [d[0], passMax])], smooth: linkLoessHopsPass },
    { row: 3, col: 2, points: [...linkDistPass, ...linkHopsDist.map((d) => [d[1], passMax])], smooth: linkLoessDistPass },
  ],
};

function padded(r: number[]) {
  const span = r[1] - r[0];
  return [r[0] - PAD * span, r[1] + PAD * span];
}

function drawAxis(g: any, side: string, scale: any, ticks: number[], hidden: number[], pos: number) {
  const [d0, d1] = scale.domain();
  const tv = ticks.filter((t) => t >= Math.min(d0, d1) && t <= Math.max(d0, d1));
  const horiz = side === 'top' || side === 'bottom';
  const dir = side === 'top' || side === 'left' ? -1 : 1;
  const a = g.append('g').attr('stroke', '#222').attr('stroke-width', 0.8);
  const p0 = scale(tv[0]);
  const p1 = scale(tv[tv.length - 1]);
  if (horiz) a.append('line').attr('x1', p0).attr('x2', p1).attr('y1', pos).attr('y2', pos);
  else a.append('line').attr('y1', p0).attr('y2', p1).attr('x1', pos).attr('x2', pos);
  tv.forEach((t) => {
    const p = scale(t);
    if (horiz) a.append('line').attr('x1', p).attr('x2', p).attr('y1', pos).attr('y2', pos + dir * 4.5);
    else a.append('line').attr('y1', p).attr('y2', p).attr('x1', pos).attr('x2', pos + dir * 4.5);
    if (hidden.includes(t)) return;
    const label = g.append('text')
      .attr('font-family', SANS).attr('font-size', 6.3).attr('font-weight', 700)
      .attr('fill', '#111').attr('text-anchor', 'middle').text(t);
    if (side === 'top') label.attr('x', p).attr('y', pos - 11.3);
    else if (side === 'bottom') label.attr('x', p).attr('y', pos + 15.4);
    else {
      const cx = pos + dir * 13.3 + 2.3;
      label.attr('transform', `translate(${cx},${p}) rotate(-90)`);
    }
  });
}

function drawMatrix(svg: any, cfg: any) {
  const g = svg.append('g');
  const x0 = cfg.x0;
  const scales = cfg.ranges.map((r: number[], i: number) => ({
    x: d3.scaleLinear().domain(padded(r)).range([x0 + i * S, x0 + (i + 1) * S]),
    y: d3.scaleLinear().domain(padded(r)).range([TOP + (i + 1) * S, TOP + i * S]),
  }));
  const defs = g.append('defs');
  const clip = (r: number, c: number) => {
    const id = `${cfg.id}-clip-${r}-${c}`;
    defs.append('clipPath').attr('id', id).append('rect')
      .attr('x', x0 + c * S).attr('y', TOP + r * S).attr('width', S).attr('height', S);
    return `url(#${id})`;
  };

  // diagonal: histogram, density, rug, name
  cfg.hists.forEach((h: any, i: number) => {
    const left = x0 + i * S;
    const top = TOP + i * S;
    const b0 = h.breaks[0];
    const bn = h.breaks[h.breaks.length - 1];
    const xh = d3.scaleLinear().domain(padded([b0, bn])).range([left, left + S]);
    const maxC = d3.max(h.counts) as number;
    const yh = d3.scaleLinear().domain(padded([0, maxC])).range([top + S, top]);
    const pg = g.append('g').attr('clip-path', clip(i, i));
    h.counts.forEach((c: number, k: number) => {
      pg.append('rect')
        .attr('x', xh(h.breaks[k])).attr('width', xh(h.breaks[k + 1]) - xh(h.breaks[k]))
        .attr('y', yh(c)).attr('height', Math.max(0.3, yh(0) - yh(c)))
        .attr('fill', '#d3d3d3').attr('stroke', '#555').attr('stroke-width', 0.8);
    });
    const line = d3.line<number[]>().x((d) => xh(d[0])).y((d) => yh(d[1])).curve(d3.curveMonotoneX);
    pg.append('path').attr('d', line(h.density)).attr('fill', 'none')
      .attr('stroke', '#ff2020').attr('stroke-width', 1).attr('stroke-opacity', 0.85);
    const bottom = top + S - 0.4;
    h.rug.forEach((v: number) => {
      pg.append('line').attr('x1', xh(v)).attr('x2', xh(v)).attr('y1', bottom).attr('y2', bottom - 4)
        .attr('stroke', '#000').attr('stroke-width', 1);
    });
    g.append('text').attr('x', left + S / 2).attr('y', top + 25.8)
      .attr('text-anchor', 'middle').attr('font-family', SANS).attr('font-size', 15.3)
      .attr('fill', '#222').text(cfg.names[i]);
  });

  // upper: correlation and significance
  let k = 0;
  for (let r = 0; r < 4; r++) {
    for (let c = r + 1; c < 4; c++) {
      const left = x0 + c * S;
      const top = TOP + r * S;
      const val = cfg.cors[k];
      const fs = 40 * (Math.abs(val) + 0.3);
      const pg = g.append('g').attr('clip-path', clip(r, c));
      pg.append('text').attr('x', left + S / 2).attr('y', top + S / 2 + 0.358 * fs)
        .attr('text-anchor', 'middle').attr('font-family', SANS).attr('font-size', fs)
        .attr('fill', '#000').text(d3.format('.2f')(val));
      pg.append('text').attr('x', left + 0.8 * S).attr('y', top + 0.2 * S + 31)
        .attr('text-anchor', 'middle').attr('font-family', SANS).attr('font-size', 55)
        .attr('fill', '#ff0000').text(cfg.signif[k]);
      k++;
    }
  }

  // lower: scatter and smooth
  cfg.lower.forEach((p: any) => {
    const xs = scales[p.col].x;
    const ys = scales[p.row].y;
    const pg = g.append('g').attr('clip-path', clip(p.row, p.col));
    pg.append('g').selectAll('circle').data(p.points).join('circle')
      .attr('cx', (d: number[]) => xs(d[0])).attr('cy', (d: number[]) => ys(d[1])).attr('r', 2.2)
      .attr('fill', 'none').attr('stroke', '#000').attr('stroke-opacity', 0.8).attr('stroke-width', cfg.pointStroke);
    const line = d3.line<number[]>().x((d) => xs(d[0])).y((d) => ys(d[1]));
    pg.append('path').attr('d', line(p.smooth)).attr('fill', 'none')
      .attr('stroke', '#ff0000').attr('stroke-width', 1.1).attr('stroke-opacity', 0.8);
  });

  // panel borders
  for (let r = 0; r < 4; r++) {
    for (let c = 0; c < 4; c++) {
      g.append('rect').attr('x', x0 + c * S).attr('y', TOP + r * S).attr('width', S).attr('height', S)
        .attr('fill', 'none').attr('stroke', '#1a1a1a').attr('stroke-width', 1.3);
    }
  }
  g.append('rect').attr('x', x0).attr('y', TOP).attr('width', 4 * S).attr('height', 4 * S)
    .attr('fill', 'none').attr('stroke', '#8c8c8c').attr('stroke-width', 1.6);

  // axes
  const right = x0 + 4 * S;
  const bottomY = TOP + 4 * S;
  [1, 3].forEach((c) => drawAxis(g, 'top', scales[c].x, cfg.ticks[c], cfg.hidden[c], TOP));
  [0, 2].forEach((c) => drawAxis(g, 'bottom', scales[c].x, cfg.ticks[c], cfg.hidden[c], bottomY));
  [1, 3].forEach((r) => drawAxis(g, 'left', scales[r].y, cfg.ticks[r], cfg.hidden[r], x0));
  [0, 2].forEach((r) => drawAxis(g, 'right', scales[r].y, cfg.ticks[r], cfg.hidden[r], right));

  // caption
  const cap = g.append('text').attr('x', cfg.captionX).attr('y', 588).attr('text-anchor', 'middle')
    .attr('font-family', '"Liberation Serif", "Times New Roman", serif').attr('font-size', 20).attr('fill', '#000');
  cap.append('tspan').attr('font-weight', 700).text(cfg.caption[0]);
  cap.append('tspan').text(cfg.caption[1]);
}

export default function App() {
  const svgRef = useRef<SVGSVGElement>(null);

  useEffect(() => {
    if (!svgRef.current) return;
    const svg = d3.select(svgRef.current);
    svg.selectAll('*').remove();
    svg.append('rect').attr('width', 1147).attr('height', 595).attr('fill', '#fff');
    drawMatrix(svg, nodeMatrix);
    drawMatrix(svg, linkMatrix);
  }, []);

  return (
    <svg
      ref={svgRef}
      width={1147}
      height={595}
      style={{ position: 'absolute', left: 0, top: 0, display: 'block' }}
    />
  );
}
